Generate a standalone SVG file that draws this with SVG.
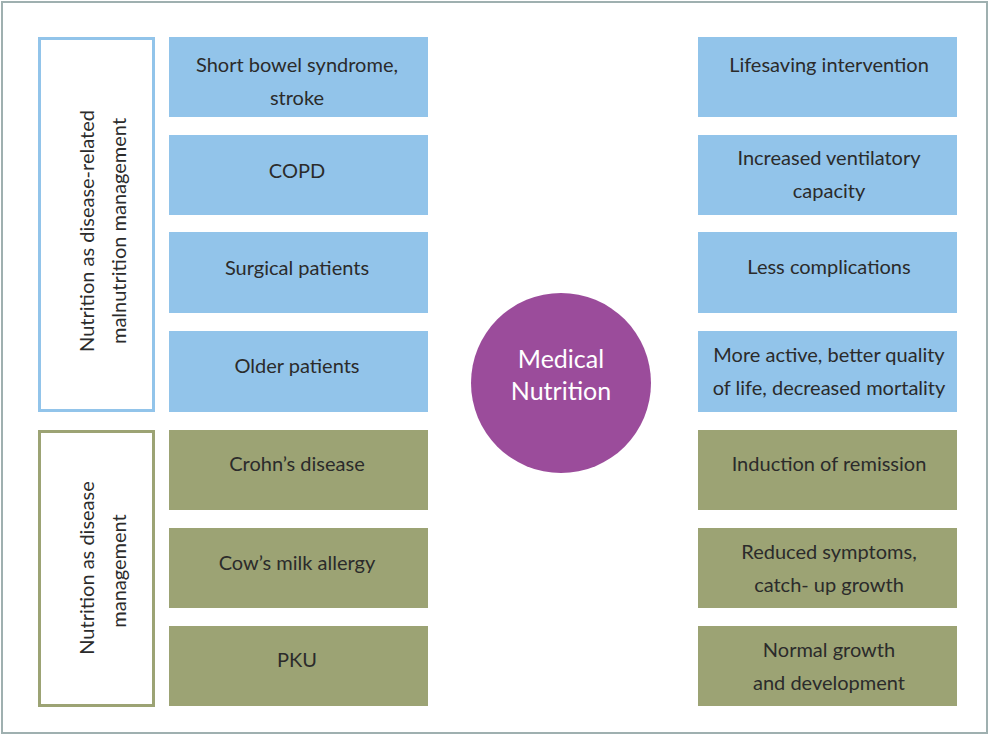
<svg xmlns="http://www.w3.org/2000/svg" width="989" height="735" viewBox="0 0 989 735">
<style>
.b{fill:#92c4ea}
.g{fill:#9ca374}
.t{font-family:Lato,"Open Sans",sans-serif;font-size:20px;fill:#2b2b2b;text-anchor:middle}
.v{font-family:Lato,"Open Sans",sans-serif;font-size:20px;fill:#2b2b2b;text-anchor:middle}
</style>
<rect x="2" y="2" width="985" height="731" fill="#fff" stroke="#9fb0b0" stroke-width="2"/>
<g id="group-malnutrition">
<rect x="39.5" y="38.5" width="114" height="372" fill="#fff" stroke="#92c4ea" stroke-width="3"/>
<text class="v" transform="translate(94,231) rotate(-90)">Nutrition as disease-related</text>
<text class="v" transform="translate(126,231) rotate(-90)">malnutrition management</text>
</g>
<g id="group-disease">
<rect x="39.5" y="431.5" width="114" height="274" fill="#fff" stroke="#9ca374" stroke-width="3"/>
<text class="v" transform="translate(94,568) rotate(-90)">Nutrition as disease</text>
<text class="v" transform="translate(126,571) rotate(-90)">management</text>
</g>
<g id="l1"><rect class="b" x="169" y="37" width="259" height="80"/><text class="t" x="297" y="72">Short bowel syndrome,</text><text class="t" x="297" y="105">stroke</text></g>
<g id="l2"><rect class="b" x="169" y="135" width="259" height="80"/><text class="t" x="297" y="178">COPD</text></g>
<g id="l3"><rect class="b" x="169" y="232" width="259" height="81"/><text class="t" x="297" y="275">Surgical patients</text></g>
<g id="l4"><rect class="b" x="169" y="331" width="259" height="81"/><text class="t" x="297" y="373">Older patients</text></g>
<g id="l5"><rect class="g" x="169" y="430" width="259" height="80"/><text class="t" x="297" y="471">Crohn’s disease</text></g>
<g id="l6"><rect class="g" x="169" y="528" width="259" height="80"/><text class="t" x="297" y="570">Cow’s milk allergy</text></g>
<g id="l7"><rect class="g" x="169" y="626" width="259" height="80"/><text class="t" x="297" y="667">PKU</text></g>
<g id="r1"><rect class="b" x="698" y="37" width="259" height="80"/><text class="t" x="829" y="72">Lifesaving intervention</text></g>
<g id="r2"><rect class="b" x="698" y="135" width="259" height="80"/><text class="t" x="829" y="165">Increased ventilatory</text><text class="t" x="829" y="198">capacity</text></g>
<g id="r3"><rect class="b" x="698" y="232" width="259" height="81"/><text class="t" x="829" y="274">Less complications</text></g>
<g id="r4"><rect class="b" x="698" y="331" width="259" height="81"/><text class="t" x="829" y="362">More active, better quality</text><text class="t" x="829" y="395">of life, decreased mortality</text></g>
<g id="r5"><rect class="g" x="698" y="430" width="259" height="80"/><text class="t" x="829" y="471">Induction of remission</text></g>
<g id="r6"><rect class="g" x="698" y="528" width="259" height="80"/><text class="t" x="829" y="559">Reduced symptoms,</text><text class="t" x="829" y="592">catch- up growth</text></g>
<g id="r7"><rect class="g" x="698" y="626" width="259" height="80"/><text class="t" x="829" y="657">Normal growth</text><text class="t" x="829" y="690">and development</text></g>
<g id="center"><circle cx="561" cy="383" r="90" fill="#9b4c9b"/><text x="561" y="368" font-family="Lato,'Open Sans',sans-serif" font-size="25" fill="#fff" text-anchor="middle">Medical</text><text x="561" y="400" font-family="Lato,'Open Sans',sans-serif" font-size="25" fill="#fff" text-anchor="middle">Nutrition</text></g>
<g id="connectors"></g>
</svg>
